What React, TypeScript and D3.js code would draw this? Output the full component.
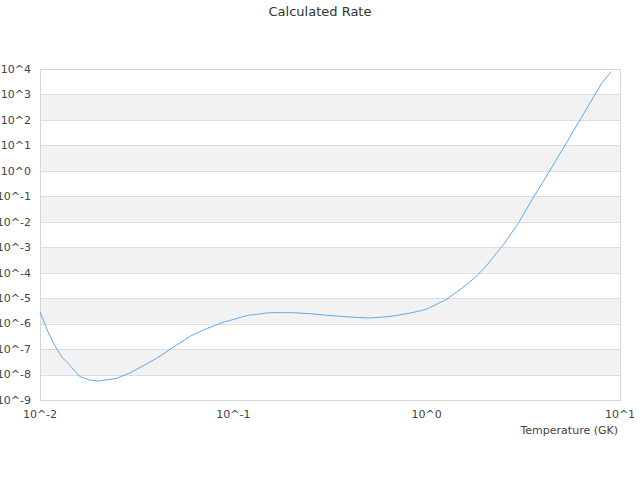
import React, { useEffect, useRef } from "react";
import * as d3 from "d3";

// Temperature grid (GK) and calculated rate
const temperatures = [
  0.01, 0.011, 0.012, 0.013, 0.014, 0.015, 0.016, 0.018, 0.02, 0.025, 0.03,
  0.04, 0.05, 0.06, 0.07, 0.08, 0.09, 0.1, 0.11, 0.12, 0.13, 0.14, 0.15, 0.16,
  0.18, 0.2, 0.25, 0.3, 0.35, 0.4, 0.45, 0.5, 0.6, 0.7, 0.8, 0.9, 1.0, 1.25,
  1.5, 1.75, 2.0, 2.5, 3.0, 3.5, 4.0, 5.0, 6.0, 7.0, 8.0, 9.0,
];
const log10Rates = [
  -5.54, -6.32, -6.9, -7.32, -7.57, -7.83, -8.07, -8.21, -8.26, -8.15, -7.89,
  -7.37, -6.88, -6.49, -6.25, -6.08, -5.93, -5.84, -5.74, -5.67, -5.64, -5.61,
  -5.58, -5.57, -5.57, -5.57, -5.61, -5.67, -5.71, -5.74, -5.76, -5.78, -5.74,
  -5.68, -5.6, -5.52, -5.43, -5.07, -4.65, -4.24, -3.8, -2.89, -2.02, -1.14,
  -0.43, 0.79, 1.81, 2.67, 3.42, 3.9,
];
const xTickExponents = [-2, -1, 0, 1];
const yTickExponents = [4, 3, 2, 1, 0, -1, -2, -3, -4, -5, -6, -7, -8, -9];

const chartTitle = "Calculated Rate";
const xAxisTitle = "Temperature (GK)";

export default function App() {
  const ref = useRef<SVGSVGElement>(null);

  useEffect(() => {
    if (!ref.current) return;
    const svg = d3.select(ref.current);
    svg.selectAll("*").remove();

    const width = 640;
    const height = 480;
    const margin = { top: 69, right: 20, bottom: 80, left: 40 };

    const x = d3
      .scaleLog()
      .domain([1e-2, 1e1])
      .range([margin.left, width - margin.right]);
    const y = d3
      .scaleLog()
      .domain([1e-9, 1e4])
      .range([height - margin.bottom, margin.top]);

    const font = "'DejaVu Sans', sans-serif";

    // alternating bands
    svg
      .append("g")
      .selectAll("rect")
      .data(yTickExponents.filter((e) => e !== -9 && Math.abs(e) % 2 === 1))
      .join("rect")
      .attr("x", margin.left)
      .attr("width", width - margin.right - margin.left)
      .attr("y", (e) => y(Math.pow(10, e)))
      .attr("height", (e) => y(Math.pow(10, e - 1)) - y(Math.pow(10, e)))
      .attr("fill", "#f2f2f2");

    // horizontal grid lines
    svg
      .append("g")
      .selectAll("line")
      .data(yTickExponents)
      .join("line")
      .attr("x1", margin.left)
      .attr("x2", width - margin.right)
      .attr("y1", (e) => Math.round(y(Math.pow(10, e))) + 0.5)
      .attr("y2", (e) => Math.round(y(Math.pow(10, e))) + 0.5)
      .attr("stroke", "#dcdcdc")
      .attr("stroke-width", 1);

    // plot border
    svg
      .append("rect")
      .attr("x", margin.left + 0.5)
      .attr("y", margin.top + 0.5)
      .attr("width", width - margin.right - margin.left)
      .attr("height", height - margin.bottom - margin.top)
      .attr("fill", "none")
      .attr("stroke", "#d6d6d6");

    // y tick labels (the left ones run off the edge, as in the original)
    svg
      .append("g")
      .selectAll("text")
      .data(yTickExponents)
      .join("text")
      .attr("x", margin.left - 9)
      .attr("y", (e) => y(Math.pow(10, e)))
      .attr("dy", "0.35em")
      .attr("text-anchor", "end")
      .attr("font-family", font)
      .attr("font-size", 11)
      .attr("fill", "#444")
      .text((e) => `10^${e}`);

    // x tick labels
    svg
      .append("g")
      .selectAll("text")
      .data(xTickExponents)
      .join("text")
      .attr("x", (e) => x(Math.pow(10, e)))
      .attr("y", height - margin.bottom + 18)
      .attr("text-anchor", "middle")
      .attr("font-family", font)
      .attr("font-size", 11)
      .attr("fill", "#444")
      .text((e) => `10^${e}`);

    // axis title
    svg
      .append("text")
      .attr("x", width - margin.right - 2)
      .attr("y", height - margin.bottom + 34)
      .attr("text-anchor", "end")
      .attr("font-family", font)
      .attr("font-size", 11)
      .attr("fill", "#444")
      .text(xAxisTitle);

    // chart title
    svg
      .append("text")
      .attr("x", width / 2)
      .attr("y", 16)
      .attr("text-anchor", "middle")
      .attr("font-family", font)
      .attr("font-size", 13)
      .attr("fill", "#333")
      .text(chartTitle);

    // rate line
    const points = temperatures.map((t, i) => [t, Math.pow(10, log10Rates[i])] as [number, number]);
    const line = d3
      .line<[number, number]>()
      .x((d) => x(d[0]))
      .y((d) => y(d[1]));

    svg
      .append("path")
      .datum(points)
      .attr("d", line)
      .attr("fill", "none")
      .attr("stroke", "#5ea8f4")
      .attr("stroke-width", 1)
      .attr("stroke-linejoin", "round");
  }, []);

  return (
    <svg
      ref={ref}
      width={640}
      height={480}
      style={{ position: "absolute", left: 0, top: 0, display: "block", background: "#fff" }}
    />
  );
}
